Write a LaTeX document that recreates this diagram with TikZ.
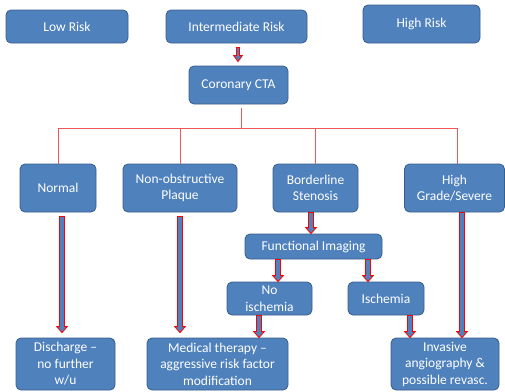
\documentclass[tikz,border=0pt]{standalone}
\usepackage{fontspec}
\setmainfont{Carlito}
\usetikzlibrary{calc}
\definecolor{boxblue}{HTML}{4F81BD}
\definecolor{boxedge}{HTML}{385D8A}
\definecolor{treered}{HTML}{F25757}
\newcommand\barrow[3][2.5]{%
  \draw[blockarrow] let \p1=(#2), \p2=(#3) in
    (\x1-#1pt,\y1) -- (\x1-#1pt,\y2+6pt) -- (\x1-#1pt-2.8pt,\y2+6pt) -- (\x1,\y2)
    -- (\x1+#1pt+2.8pt,\y2+6pt) -- (\x1+#1pt,\y2+6pt) -- (\x1+#1pt,\y1) -- cycle;}
\begin{document}
\begin{tikzpicture}[x=1pt,y=-1pt,
  box/.style={draw=boxedge,line width=0.8pt,fill=boxblue,rounded corners=5pt,
    text=white,align=center,inner sep=1pt,
    font=\fontsize{13.5}{16.5}\selectfont},
  blockarrow/.style={draw=red,fill=boxblue,line width=0.8pt},
  tree/.style={draw=treered,line width=0.9pt}]
\useasboundingbox (0,0) rectangle (505,391);
\node[box,minimum width=122pt,minimum height=33pt] (low) at (67,26.5) {Low Risk};
\node[box,minimum width=141pt,minimum height=33pt] (inter) at (236.5,26.5) {Intermediate Risk};
\node[box,minimum width=117pt,minimum height=38pt] (high) at (421.5,24) {High Risk};
\node[box,minimum width=99pt,minimum height=38pt] (cta) at (238.5,85) {Coronary CTA};
\node[box,minimum width=76pt,minimum height=48pt] (normal) at (58,188) {Normal};
\node[box,minimum width=114pt,minimum height=48pt] (nonobs) at (180,188) {Non-obstructive\\Plaque};
\node[box,minimum width=85pt,minimum height=48pt] (border) at (315.5,188) {Borderline\\Stenosis};
\node[box,minimum width=100pt,minimum height=48pt] (highg) at (454.5,188) {High\\Grade/Severe};
\node[box,minimum width=137pt,minimum height=25pt] (func) at (313.5,246.5) {Functional Imaging};
\node[box,minimum width=85pt,minimum height=33pt] (noisch) at (269.5,298.5) {No\\ischemia};
\node[box,minimum width=76pt,minimum height=33pt] (isch) at (386,298.5) {Ischemia};
\node[box,minimum width=99pt,minimum height=52pt] (disch) at (65.5,364) {Discharge –\\no further\\w/u};
\node[box,minimum width=141pt,minimum height=52pt] (med) at (217.5,364) {Medical therapy –\\aggressive risk factor\\modification};
\node[box,minimum width=108pt,minimum height=52pt] (inv) at (445,364) {Invasive\\angiography \&\\possible revasc.};
% tree
\coordinate (hub) at ($(cta.south)+(2.5,24)$);
\draw[tree] ([xshift=2.5pt,yshift=-4pt]cta.south) -- (hub);
\draw[tree] (normal.north) |- (hub) -| ([xshift=2.5pt]highg.north);
\draw[tree] (nonobs.north) -- (nonobs.north |- hub);
\draw[tree] (border.north) -- (border.north |- hub);
% block arrows
\barrow[1.5]{[xshift=1.5pt,yshift=-4pt]inter.south}{[xshift=1.5pt,yshift=4pt]cta.north}
\barrow{[xshift=4pt,yshift=-4pt]normal.south}{[yshift=5pt]disch.north}
\barrow{[yshift=-4pt]nonobs.south}{[yshift=5pt]med.north}
\barrow{[xshift=-4.5pt]border.south}{func.north}
\barrow{[xshift=7.5pt]highg.south}{inv.north}
\barrow{[xshift=-35.5pt]func.south}{noisch.north}
\barrow{[xshift=54.5pt]func.south}{isch.north}
\barrow{[xshift=-10.5pt]noisch.south}{med.north}
\barrow{[xshift=24pt]isch.south}{inv.north}
\end{tikzpicture}
\end{document}
